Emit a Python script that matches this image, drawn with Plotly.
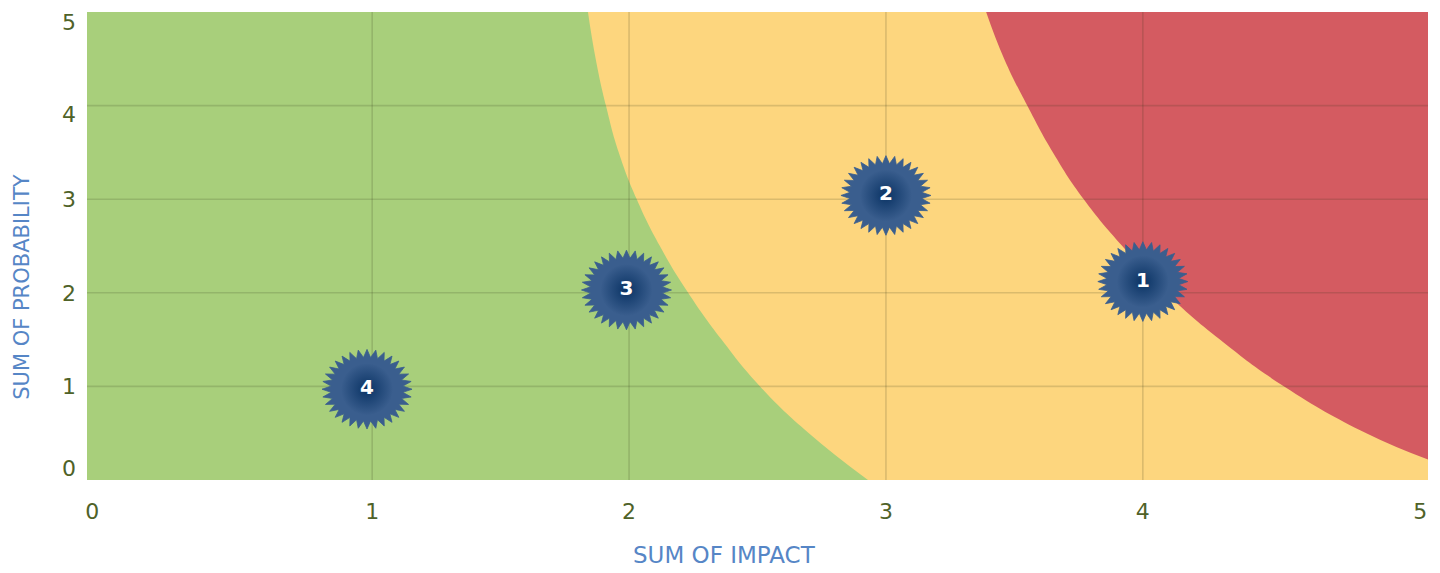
import numpy as np
import plotly.graph_objects as go

# ---------------- data ----------------
risk_labels = ["1", "2", "3", "4"]
risk_impact = [4.0, 3.0, 1.99, 0.98]
risk_probability = [2.12, 3.04, 2.03, 0.97]

tick_labels = ["0", "1", "2", "3", "4", "5"]
tick_values = [0, 1, 2, 3, 4, 5]
grid_values = [1, 2, 3, 4]

# zone boundaries (probability -> impact)
amber_prob = [5, 4.5, 4, 3.5, 3, 2.5, 2, 1.5, 1, 0.5, 0]
amber_impact = [1.84, 1.87, 1.91, 1.96, 2.03, 2.12, 2.23, 2.36, 2.51, 2.70, 2.93]
red_prob = [5, 4.5, 4, 3.5, 3, 2.5, 2, 1.5, 1, 0.5, 0.22]
red_impact = [3.39, 3.46, 3.55, 3.65, 3.77, 3.92, 4.09, 4.30, 4.55, 4.87, 5.11]

# ---------------- style ----------------
W, H = 1440, 573
ML, MR, MT, MB = 87, 12, 10, 93
X_RANGE = [-0.11, 5.11]
Y_RANGE = [0, 5]
GREEN = "#A8CF7B"
AMBER = "#FDD67E"
RED = "#D45B61"
GRID = "rgba(45,55,25,0.17)"
TICK_COLOR = "#4F6228"
TITLE_COLOR = "#5686C6"
STAR_BODY = "#3A5E8E"
STAR_CORE = "#0A3364"

# edge-inset of end tick labels (style)
x_label_nudge = [-0.09, 0, 0, 0, 0, 0.08]
y_label_nudge = [0.13, 0, 0, 0, -0.09, -0.11]

px_x = (W - ML - MR) / (X_RANGE[1] - X_RANGE[0])
px_y = (H - MT - MB) / (Y_RANGE[1] - Y_RANGE[0])

fig = go.Figure()
far_x = X_RANGE[1] + 1

def add_zone(impact, prob, color):
    # invisible far edge, then boundary filled towards it
    fig.add_trace(go.Scatter(x=[far_x, far_x], y=[Y_RANGE[1] + 1, Y_RANGE[0] - 1],
                             mode="lines", line=dict(width=0), hoverinfo="skip",
                             showlegend=False))
    fig.add_trace(go.Scatter(x=impact, y=prob, mode="lines",
                             line=dict(width=0, shape="spline", smoothing=1.3),
                             fill="tonextx", fillcolor=color, hoverinfo="skip",
                             showlegend=False))

add_zone(amber_impact, amber_prob, AMBER)
add_zone(red_impact, red_prob, RED)

# grid lines drawn over the zones
gx, gy = [], []
for v in grid_values:
    gx += [v, v, None]
    gy += [Y_RANGE[0], Y_RANGE[1], None]
    gx += [X_RANGE[0], X_RANGE[1], None]
    gy += [v, v, None]
fig.add_trace(go.Scatter(x=gx, y=gy, mode="lines", line=dict(color=GRID, width=1.6),
                         hoverinfo="skip", showlegend=False))

# starburst markers
N_SPIKES, RX, RY, INNER = 32, 45, 40, 0.80
ang = np.linspace(0, 2 * np.pi, 2 * N_SPIKES + 1)
rad = np.where(np.arange(2 * N_SPIKES + 1) % 2 == 0, 1.0, INNER)
for cx, cy in zip(risk_impact, risk_probability):
    fig.add_trace(go.Scatter(x=cx + rad * RX * np.cos(ang) / px_x,
                             y=cy + rad * RY * np.sin(ang) / px_y,
                             mode="lines", line=dict(width=0.8, color=STAR_BODY),
                             fill="toself", fillcolor=STAR_BODY, hoverinfo="skip",
                             showlegend=False))

fig.add_trace(go.Scatter(x=risk_impact, y=risk_probability, mode="markers+text",
                         marker=dict(size=52, color=STAR_BODY, symbol="circle",
                                     line=dict(width=0),
                                     gradient=dict(type="radial", color=STAR_CORE)),
                         text=risk_labels, textposition="middle center",
                         textfont=dict(family="DejaVu Sans", size=20, color="white",
                                       weight="bold"),
                         hoverinfo="skip", showlegend=False))

axis_common = dict(showgrid=False, zeroline=False, showline=False, ticks="",
                   tickfont=dict(family="DejaVu Sans", size=22, color=TICK_COLOR))
fig.update_xaxes(range=X_RANGE, tickmode="array",
                 tickvals=[v + n for v, n in zip(tick_values, x_label_nudge)],
                 ticktext=tick_labels, ticklabelstandoff=16, **axis_common)
fig.update_yaxes(range=Y_RANGE, tickmode="array",
                 tickvals=[v + n for v, n in zip(tick_values, y_label_nudge)],
                 ticktext=tick_labels, ticklabelstandoff=10, **axis_common)

fig.add_annotation(text="SUM OF IMPACT", xref="paper", yref="paper",
                   x=(724 - ML) / (W - ML - MR), y=-(555 - (H - MB)) / (H - MT - MB),
                   xanchor="center", yanchor="middle", showarrow=False,
                   font=dict(family="DejaVu Sans", size=23, color=TITLE_COLOR))
fig.add_annotation(text="SUM OF PROBABILITY", xref="paper", yref="paper",
                   x=(22 - ML) / (W - ML - MR), y=((H - MB) - 286) / (H - MT - MB),
                   xanchor="center", yanchor="middle", textangle=-90, showarrow=False,
                   font=dict(family="DejaVu Sans", size=21, color=TITLE_COLOR))

fig.update_layout(width=W, height=H, margin=dict(l=ML, r=MR, t=MT, b=MB),
                  plot_bgcolor=GREEN, paper_bgcolor="white", showlegend=False)

fig.write_html("out.html")
